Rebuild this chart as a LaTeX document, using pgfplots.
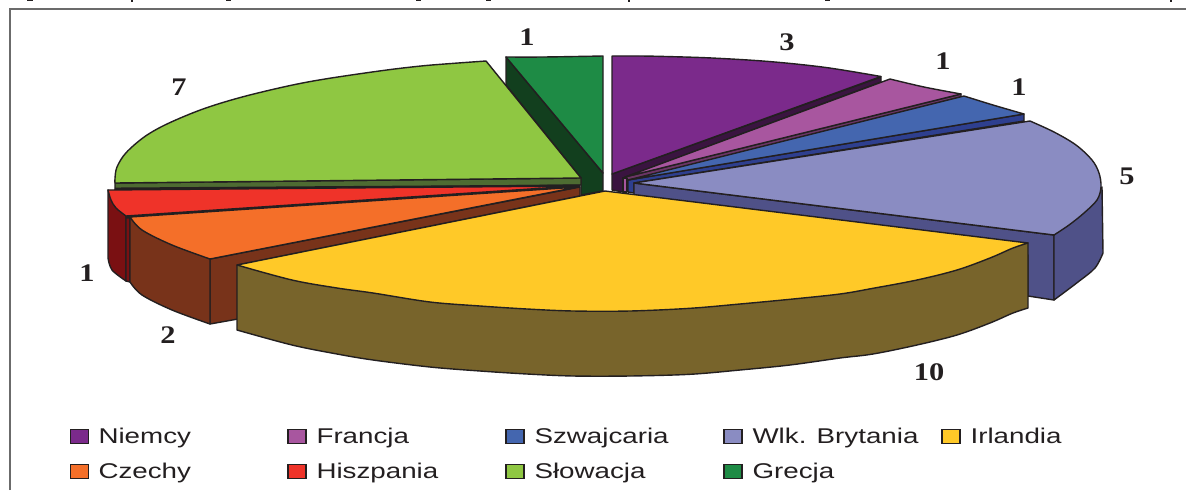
\documentclass[border=0pt]{standalone}
\usepackage{pgfplots}
\pgfplotsset{compat=1.18}
\usepackage{fontspec}
\setmainfont{Liberation Sans}
\newfontfamily\legfont[FakeStretch=1.3]{Liberation Sans}
\newfontfamily\valfont[FakeStretch=1.2]{Liberation Serif}
\definecolor{ink}{HTML}{231F20}
\definecolor{cNi}{HTML}{7B2A8B}\definecolor{cNiD}{HTML}{3A1440}
\definecolor{cFr}{HTML}{A8569F}\definecolor{cFrD}{HTML}{6C3566}
\definecolor{cSz}{HTML}{4466AF}\definecolor{cSzD}{HTML}{2E3F8F}
\definecolor{cWb}{HTML}{8A8CC2}\definecolor{cWbD}{HTML}{4F5188}
\definecolor{cIr}{HTML}{FFC928}\definecolor{cIrD}{HTML}{78642B}
\definecolor{cCz}{HTML}{F46F29}\definecolor{cCzD}{HTML}{78331A}
\definecolor{cHi}{HTML}{EF3329}\definecolor{cHiD}{HTML}{7A1012}
\definecolor{cSl}{HTML}{8FC742}\definecolor{cSlD}{HTML}{4E6B32}
\definecolor{cGr}{HTML}{1E8B45}\definecolor{cGrD}{HTML}{123F1E}
\pgfplotsset{
  pie/.style={draw=ink,line width=1.05pt,line join=round},
  arc/.style={pie,smooth,tension=0.55},
  sw/.style={fill=#1,draw=ink,line width=1pt},
}
\begin{document}
\begin{tikzpicture}
\begin{axis}[
  scale only axis,width=889.5pt,height=367.5pt,
  xmin=0,xmax=1186,ymin=0,ymax=490,y dir=reverse,
  axis lines=none,clip=true,
  legend image code/.code={\draw[#1] (0pt,-5.25pt) rectangle (13.5pt,5.25pt);},
  legend columns=5,
  legend cell align=left,
  legend style={draw=none,fill=none,at={(axis cs:69.5,454)},anchor=west,inner sep=0pt,outer sep=0pt,
    font=\legfont\fontsize{16}{18}\selectfont,text=ink,
    row sep=9.5pt,
    /tikz/every even column/.append style={column sep=0pt}},
]
\path (axis cs:0,0) -- (axis cs:1186,490);
% legend
\addlegendimage{sw=cNi}\addlegendentry{\makebox[145pt][l]{\hspace*{5.3pt}Niemcy}}
\addlegendimage{sw=cFr}\addlegendentry{\makebox[145pt][l]{\hspace*{5.3pt}Francja}}
\addlegendimage{sw=cSz}\addlegendentry{\makebox[145pt][l]{\hspace*{5.3pt}Szwajcaria}}
\addlegendimage{sw=cWb}\addlegendentry{\makebox[145pt][l]{\hspace*{5.3pt}Wlk. Brytania}}
\addlegendimage{sw=cIr}\addlegendentry{\makebox[70pt][l]{\hspace*{5.3pt}Irlandia}}
\addlegendimage{sw=cCz}\addlegendentry{\makebox[145pt][l]{\hspace*{5.3pt}Czechy}}
\addlegendimage{sw=cHi}\addlegendentry{\makebox[145pt][l]{\hspace*{5.3pt}Hiszpania}}
\addlegendimage{sw=cSl}\addlegendentry{\makebox[145pt][l]{\hspace*{5.3pt}Słowacja}}
\addlegendimage{sw=cGr}\addlegendentry{\makebox[145pt][l]{\hspace*{5.3pt}Grecja}}
% frame
\addplot[forget plot,draw=black!58,line width=1.3pt] coordinates {(10,490)(10,9)(1186,9)};
% remnants of the cropped caption line above the frame
\addplot[forget plot,draw=ink,line width=0.8pt] coordinates {(27,0.5)(33,0.5)};
\addplot[forget plot,draw=ink,line width=0.8pt] coordinates {(132,0)(132,1.5)};
\addplot[forget plot,draw=ink,line width=0.9pt] coordinates {(226,0.7)(231,0.7)};
\addplot[forget plot,draw=ink,line width=0.8pt] coordinates {(416,0.5)(421,0.5)};
\addplot[forget plot,draw=ink,line width=0.8pt] coordinates {(486,0.5)(491,0.5)};
\addplot[forget plot,draw=ink,line width=0.8pt] coordinates {(629,0)(629,1.5)};
\addplot[forget plot,draw=ink,line width=0.9pt] coordinates {(825,0.7)(830,0.7)};
\addplot[forget plot,draw=ink,line width=0.8pt] coordinates {(1171,0)(1171,1.5)};
% Grecja
\addplot[forget plot,pie,fill=cGrD] coordinates {(506,57)(603,173)(603,191)(581,195)(581,178)(506,85)} -- cycle;
\addplot[forget plot,arc,fill=cGr] coordinates {(506,57)(543,57)(603,56)} -- (axis cs:603,173) -- cycle;
% Niemcy
\addplot[forget plot,pie,fill=cNiD] coordinates {(612,174)(881,77)(881,82)(623,178)(623,192)(612,190)} -- cycle;
\addplot[forget plot,arc,fill=cNi] coordinates {(612,56)(640,56)(666,56.5)(712,58)(769,61.5)(826,67.5)(881,76.5)} -- (axis cs:612,174) -- cycle;
% Francja
\addplot[forget plot,pie,fill=cFrD] coordinates {(625,177)(961,94)(961,97)(627,181)} -- cycle;
\addplot[forget plot,pie,fill=cFr] coordinates {(623,178)(627,178)(627,192)(623,192)} -- cycle;
\addplot[forget plot,arc,fill=cFr] coordinates {(890,79)(924,87)(961,94)} -- (axis cs:625,177) -- cycle;
% Szwajcaria
\addplot[forget plot,pie,fill=cSzD] coordinates {(628,180)(1024,114)(1024,121)(634,183)(634,193)(628,192)} -- cycle;
\addplot[forget plot,arc,fill=cSz] coordinates {(964,96)(993,105)(1024,114)} -- (axis cs:628,180) -- cycle;
% Wlk. Brytania
\addplot[forget plot,pie,fill=cWbD] coordinates {(634,183)(1054,235)(1054,300)(1028,296)(1028,255)(634,200)} -- cycle;
\addplot[forget plot,arc,fill=cWbD] coordinates {(1054,300)(1078,282)(1095,268)(1103,253)} -- (axis cs:1102,187) -- (axis cs:1054,235) -- cycle;
\addplot[forget plot,arc,fill=cWb] coordinates {(1030,121)(1054,132)(1076,145)(1092,160)(1099,173)(1101,187)(1097,200)(1084,213)(1069,225)(1054,235)} -- (axis cs:634,183) -- cycle;
% Slowacja
\addplot[forget plot,pie,fill=cSlD] coordinates {(115,183)(581,178)(581,185)(115,190)} -- cycle;
\addplot[forget plot,arc,fill=cSl] coordinates {(486,61)(450,63.6)(421,66)(383,70.5)(325,79)(287,86.2)(241,97.3)(203,109)(168,123.5)(145,136.4)(126,152.8)(117,167)(115,178)(115,183)} -- (axis cs:581,178) -- cycle;
% Hiszpania
\addplot[forget plot,arc,fill=cHiD] coordinates {(108,258)(112,270)(126,281)} -- (axis cs:126,216) -- (axis cs:108,190) -- cycle;
\addplot[forget plot,pie,fill=cHiD] coordinates {(126,216)(130,216)(130,282)(126,281)} -- cycle;
\addplot[forget plot,ink,line width=2.6pt] coordinates {(126,217)(578,187)};
\addplot[forget plot,ink,line width=2.2pt] coordinates {(115,189)(580,186)};
\addplot[forget plot,arc,fill=cHi] coordinates {(108,190)(111,200)(116,208)(126,216)} -- (axis cs:575,186) -- cycle;
% Czechy
\addplot[forget plot,pie,fill=cCzD] coordinates {(210,259)(580,187)(580,196)(238,265)(238,319)(210,324)} -- cycle;
\addplot[forget plot,arc,fill=cCzD] coordinates {(130,282)(142,295)(172,310)(210,324)} -- (axis cs:210,259) -- (axis cs:130,217) -- cycle;
\addplot[forget plot,arc,fill=cCz] coordinates {(130,217)(142,230)(172,245)(210,259)} -- (axis cs:578,187) -- cycle;
% Irlandia
\addplot[forget plot,arc,fill=cIrD] coordinates {(237,330)(292,345)(337,354)(373,360)(430,367)(480,371)(527,374)(573,376)(630,376)(690,374.3)(740,370)(790,365)(840,358)(873,354)(917,345)(957,335)(990,323)(1013,313)(1028,308)} -- (axis cs:1028,243) -- (axis cs:237,265) -- cycle;
\addplot[forget plot,arc,fill=cIr] coordinates {(237,265)(292,280)(337,288)(373,293)(430,302)(480,306)(527,309)(573,311)(630,311)(690,308.3)(740,304)(790,299.3)(840,294)(873,288.3)(917,280)(957,270)(990,258)(1013,248)(1028,243)} -- (axis cs:605,191) -- cycle;
% value labels
\begin{scope}[every node/.style={text=ink,font=\valfont\bfseries\fontsize{19}{20}\selectfont,inner sep=0pt}]
\node at (axis cs:787,42) {3};
\node at (axis cs:943,61) {1};
\node at (axis cs:1019,87) {1};
\node at (axis cs:1127,176) {5};
\node at (axis cs:929,372) {10};
\node at (axis cs:168,335) {2};
\node at (axis cs:87,273) {1};
\node at (axis cs:179,87) {7};
\node at (axis cs:527,37) {1};
\end{scope}
\end{axis}
\end{tikzpicture}
\end{document}
